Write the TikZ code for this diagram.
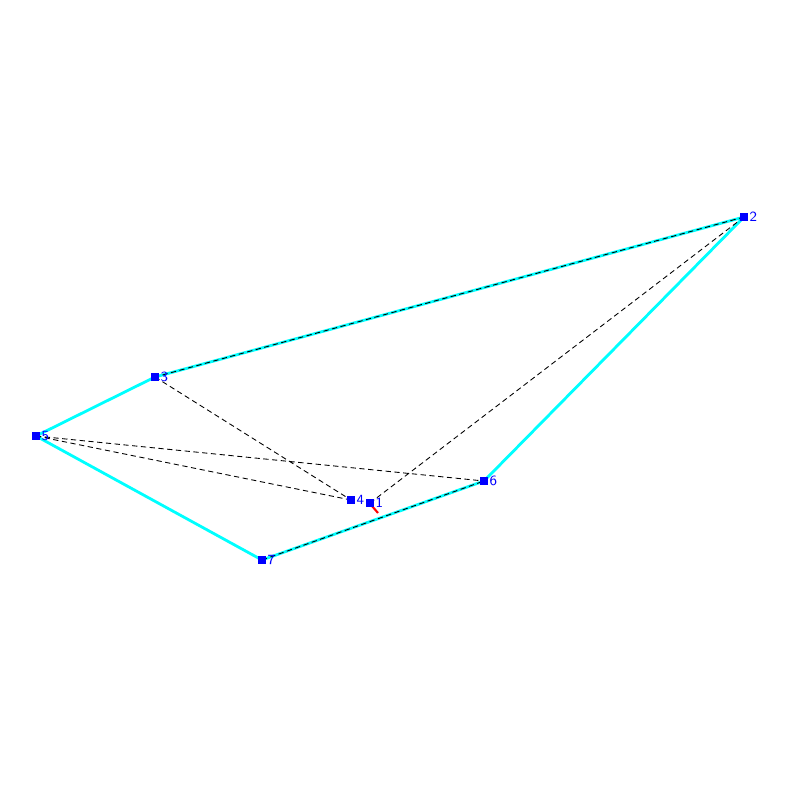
\documentclass[tikz,border=0pt]{standalone}
\usepackage{tikz}
\usetikzlibrary{positioning, backgrounds}
\definecolor{hullcyan}{RGB}{0,255,255}
\tikzset{
hull/.style={hullcyan, line width=1.6pt}, % outer polygon
link/.style={black, line width=0.5pt, dash pattern=on 3pt off 2pt}, % inner dashed links
vertex/.style={rectangle, fill=blue, inner sep=0pt, minimum size=0.16cm,
  label={[blue, font=\fontsize{8}{9}\sffamily, inner sep=0.5pt, label distance=0pt]right:#1}}, % point marker
}

\begin{document}
\begin{tikzpicture}[x=0.02cm, y=-0.02cm]
    \useasboundingbox (0,0) rectangle (800,800);
    \node[vertex=1] (p1) at (370,503) {};
    \node[vertex=2] (p2) at (744,217) {};
    \node[vertex=3] (p3) at (155,377) {};
    \node[vertex=4] (p4) at (351,500) {};
    \node[vertex=5] (p5) at (36,436) {};
    \node[vertex=6] (p6) at (484,481) {};
    \node[vertex=7] (p7) at (262,560) {};
    \coordinate (tip) at (378,513);
    \begin{scope}[on background layer]
    \draw[hull] (p2.center) -- (p3.center) -- (p5.center) -- (p7.center) -- (p6.center) -- (p2.center);
    \draw[link]
        (p2.center) -- (p3.center)
        (p7.center) -- (p6.center)
        (p3.center) -- (p4.center)
        (p5.center) -- (p4.center)
        (p5.center) -- (p6.center)
        (p2.center) -- (p1.center);
    \draw[red, line width=1.2pt] (p1.center) ++(2,3) -- (tip);
    \end{scope}
\end{tikzpicture}
\end{document}
